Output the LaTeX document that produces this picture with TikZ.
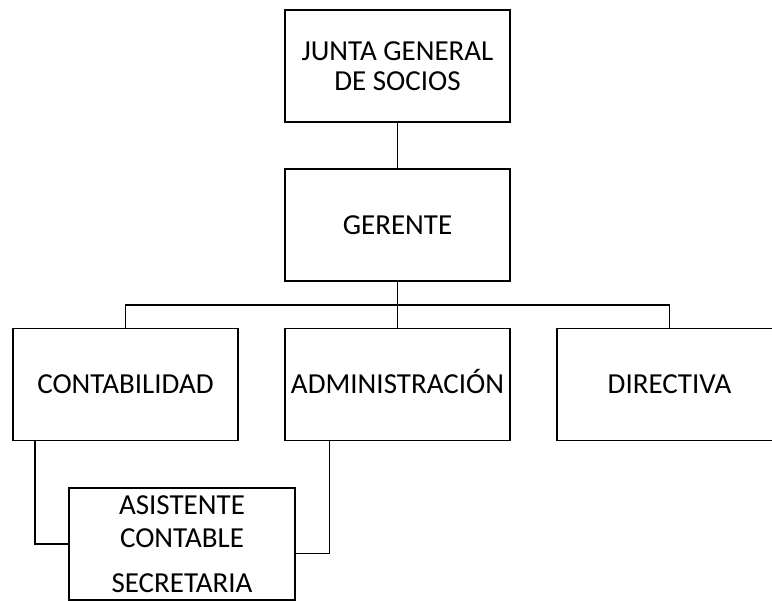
\documentclass[tikz,border=0pt]{standalone}
\usepackage{fontspec}
\setmainfont{Carlito}
\usepackage{tikz}

\tikzset{
  cargo/.style={draw, line width=1.8pt, minimum width=225pt, minimum height=112pt,
    align=center, inner sep=0pt, font=\fontsize{29}{33}\selectfont},
  unalinea/.style={text height=18.7pt, text depth=0pt},
  enlace/.style={line width=1.8pt},
  enlacefino/.style={line width=0.9pt}
}

\begin{document}
\begin{tikzpicture}[x=1pt, y=-1pt]
\useasboundingbox (0,0) rectangle (772,601);

% Niveles superiores
\node[cargo] (junta) at (397.5,66) {JUNTA GENERAL\\[-3pt]DE SOCIOS};
\node[cargo, unalinea] (gerente) at (397.5,225) {GERENTE};

% Departamentos
\node[cargo, unalinea] (conta) at (125.5,384.5) {CONTABILIDAD};
\node[cargo, unalinea] (admin) at (397.5,384.5) {ADMINISTRACI\'ON};
\node[cargo, unalinea] (directiva) at (669.5,384.5) {DIRECTIVA};

% Asistente
\node[cargo, minimum width=226pt] (asist) at (182,544)
  {ASISTENTE\\CONTABLE\\[12pt]SECRETARIA};

% Lineas de mando
\coordinate (bus) at (397.5,305);
\draw[enlace] (junta) -- (gerente);
\draw[enlace] (gerente) -- (bus);
\draw[enlace] (conta.north) |- (bus) -| (directiva.north);
\draw[enlace] (bus) -- (admin.north);
\draw[enlace] ([xshift=23pt]conta.south west) |- (asist.west);
\draw[enlacefino] ([xshift=45pt]admin.south west) |- ([yshift=-9pt]asist.east);
\end{tikzpicture}
\end{document}
